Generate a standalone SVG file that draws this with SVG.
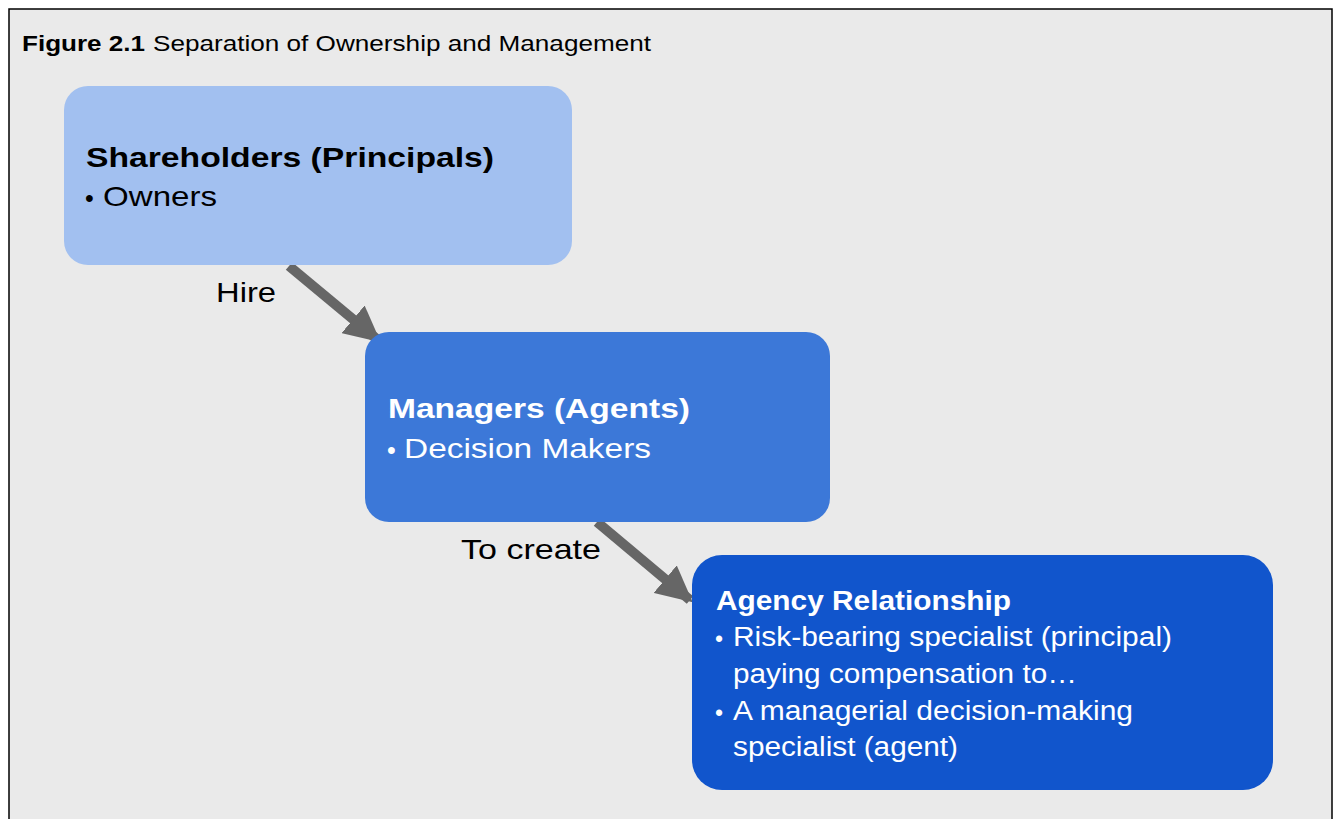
<svg xmlns="http://www.w3.org/2000/svg" width="1336" height="819" viewBox="0 0 1336 819">
<defs>
<style>
.t{font-family:"Liberation Sans",Arial,sans-serif;}
.b{font-weight:bold;}
.conn{stroke:#666666;stroke-width:10;fill:none;}
</style>
<marker id="ah" viewBox="0 0 10 10" refX="9" refY="5" markerWidth="3.6" markerHeight="3.6" orient="auto" markerUnits="strokeWidth">
<path d="M0,0 L10,5 L0,10 Z" fill="#666666"/>
</marker>
</defs>
<rect x="0" y="0" width="1336" height="819" fill="#ffffff"/>
<path d="M9,825 V9 H1332 V825 Z" fill="#eaeaea" stroke="#000000" stroke-width="1.5"/>
<text class="t b" x="22" y="51" font-size="22" fill="#000" textLength="123" lengthAdjust="spacingAndGlyphs">Figure 2.1</text>
<text class="t" x="153" y="51" font-size="22" fill="#000" textLength="498" lengthAdjust="spacingAndGlyphs">Separation of Ownership and Management</text>
<g id="connectors">
<line class="conn" x1="289" y1="266" x2="378" y2="340" marker-end="url(#ah)"/>
<line class="conn" x1="597" y1="522" x2="690" y2="600" marker-end="url(#ah)"/>
<text class="t" x="216" y="302" font-size="28" fill="#000" textLength="60" lengthAdjust="spacingAndGlyphs">Hire</text>
<text class="t" x="461" y="559" font-size="28" fill="#000" textLength="140" lengthAdjust="spacingAndGlyphs">To create</text>
</g>
<g id="shareholders">
<rect x="64" y="86" width="508" height="179" rx="24" fill="#a2c0f0"/>
<text class="t b" x="86" y="167" font-size="28" fill="#000" textLength="408" lengthAdjust="spacingAndGlyphs">Shareholders (Principals)</text>
<text class="t" x="85" y="207" font-size="25" fill="#000">•</text>
<text class="t" x="103" y="206" font-size="28" fill="#000" textLength="114" lengthAdjust="spacingAndGlyphs">Owners</text>
</g>
<g id="managers">
<rect x="365" y="332" width="465" height="190" rx="24" fill="#3c78d8"/>
<text class="t b" x="388" y="418" font-size="28" fill="#fff" textLength="302" lengthAdjust="spacingAndGlyphs">Managers (Agents)</text>
<text class="t" x="387" y="459" font-size="25" fill="#fff">•</text>
<text class="t" x="404" y="458" font-size="28" fill="#fff" textLength="247" lengthAdjust="spacingAndGlyphs">Decision Makers</text>
</g>
<g id="agency">
<rect x="692" y="555" width="581" height="235" rx="30" fill="#1155cc"/>
<text class="t b" x="716" y="610" font-size="27" fill="#fff" textLength="295" lengthAdjust="spacingAndGlyphs">Agency Relationship</text>
<text class="t" x="715" y="647" font-size="23" fill="#fff">•</text>
<text class="t" x="733" y="646" font-size="27" fill="#fff" textLength="439" lengthAdjust="spacingAndGlyphs">Risk-bearing specialist (principal)</text>
<text class="t" x="733" y="683" font-size="27" fill="#fff" textLength="344" lengthAdjust="spacingAndGlyphs">paying compensation to…</text>
<text class="t" x="715" y="721" font-size="23" fill="#fff">•</text>
<text class="t" x="733" y="720" font-size="27" fill="#fff" textLength="400" lengthAdjust="spacingAndGlyphs">A managerial decision-making</text>
<text class="t" x="733" y="756" font-size="27" fill="#fff" textLength="225" lengthAdjust="spacingAndGlyphs">specialist (agent)</text>
</g>
</svg>
